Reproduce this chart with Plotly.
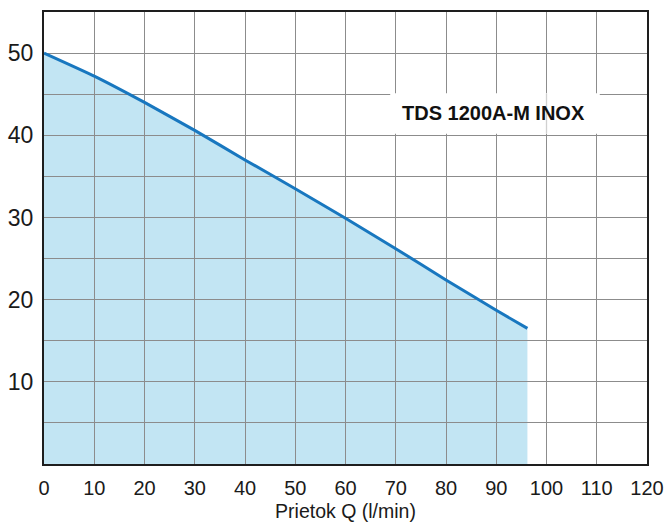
import plotly.graph_objects as go

# Data
flow_q = [0, 10, 20, 30, 40, 50, 60, 70, 80, 90, 96.2]
head_h = [50, 47.2, 44.0, 40.6, 37.0, 33.5, 29.9, 26.2, 22.4, 18.7, 16.5]

x_tick_vals = [0, 10, 20, 30, 40, 50, 60, 70, 80, 90, 100, 110, 120]
x_tick_text = ["0", "10", "20", "30", "40", "50", "60", "70", "80", "90", "100", "110", "120"]
y_tick_vals = [0, 5, 10, 15, 20, 25, 30, 35, 40, 45, 50, 55]
y_tick_text = ["", "", "10", "", "20", "", "30", "", "40", "", "50", ""]

series_name = "TDS 1200A-M INOX"
x_title = "Prietok Q (l/min)"

FONT = "Liberation Sans, Arial, sans-serif"
GRID = "#8c8c8c"
FRAME = "#1e1e1e"

fig = go.Figure()

# Fill area on the lower subplot (so grid of upper subplot is drawn over it)
fig.add_trace(go.Scatter(
    x=flow_q, y=head_h, xaxis="x", yaxis="y",
    mode="lines", line=dict(width=0, shape="spline", smoothing=0.4),
    fill="tozeroy", fillcolor="#c2e5f3", hoverinfo="skip", showlegend=False,
))

# Curve line on the upper subplot (over grid)
fig.add_trace(go.Scatter(
    x=flow_q, y=head_h, xaxis="x2", yaxis="y2",
    mode="lines", line=dict(width=3, color="#1877bf", shape="spline", smoothing=0.4),
    showlegend=False, name=series_name,
))

fig.update_layout(
    width=666, height=526,
    margin=dict(l=44, r=19, t=12, b=62),
    paper_bgcolor="white",
    plot_bgcolor="rgba(0,0,0,0)",
    font=dict(family=FONT, color="#1a1a1a"),
    xaxis=dict(domain=[0, 1], range=[0, 120], visible=False, fixedrange=True),
    yaxis=dict(domain=[0, 1], range=[0, 55], visible=False, fixedrange=True),
    xaxis2=dict(
        domain=[0, 1], range=[0, 120], anchor="y2", automargin=False,
        tickmode="array", tickvals=x_tick_vals, ticktext=x_tick_text,
        showgrid=True, gridcolor=GRID, gridwidth=1.3,
        zeroline=False, showline=True, linecolor=FRAME, linewidth=2, mirror=True,
        ticks="outside", ticklen=5, tickcolor="rgba(0,0,0,0)",
        tickfont=dict(size=20, family=FONT, color="#1a1a1a"),
        title=dict(text=x_title, font=dict(size=19.5, family=FONT, color="#1a1a1a"), standoff=6),
    ),
    yaxis2=dict(
        domain=[0, 1], range=[0, 55], anchor="x2", automargin=False,
        tickmode="array", tickvals=y_tick_vals, ticktext=y_tick_text,
        showgrid=True, gridcolor=GRID, gridwidth=1.3,
        zeroline=False, showline=True, linecolor=FRAME, linewidth=2, mirror=True,
        ticks="outside", ticklen=4, tickcolor="rgba(0,0,0,0)",
        tickfont=dict(size=23, family=FONT, color="#1a1a1a"),
    ),
    shapes=[
        dict(type="rect", xref="x2", yref="y2", x0=68.9, x1=110.6, y0=40.2, y1=45.1,
             fillcolor="white", line=dict(width=0), layer="above"),
        dict(type="line", xref="x2", yref="y2", x0=100, x1=100, y0=40.2, y1=45.1,
             line=dict(color="#d0d0d0", width=1.3), layer="above"),
    ],
    annotations=[
        dict(text=series_name, xref="x2", yref="y2", x=89.5, y=42.7,
             showarrow=False, font=dict(size=20, family=FONT, color="#111111", weight="bold")),
    ],
)

fig.write_html("out.html", config={"displayModeBar": False},
               post_script="document.body.style.margin='0';")
